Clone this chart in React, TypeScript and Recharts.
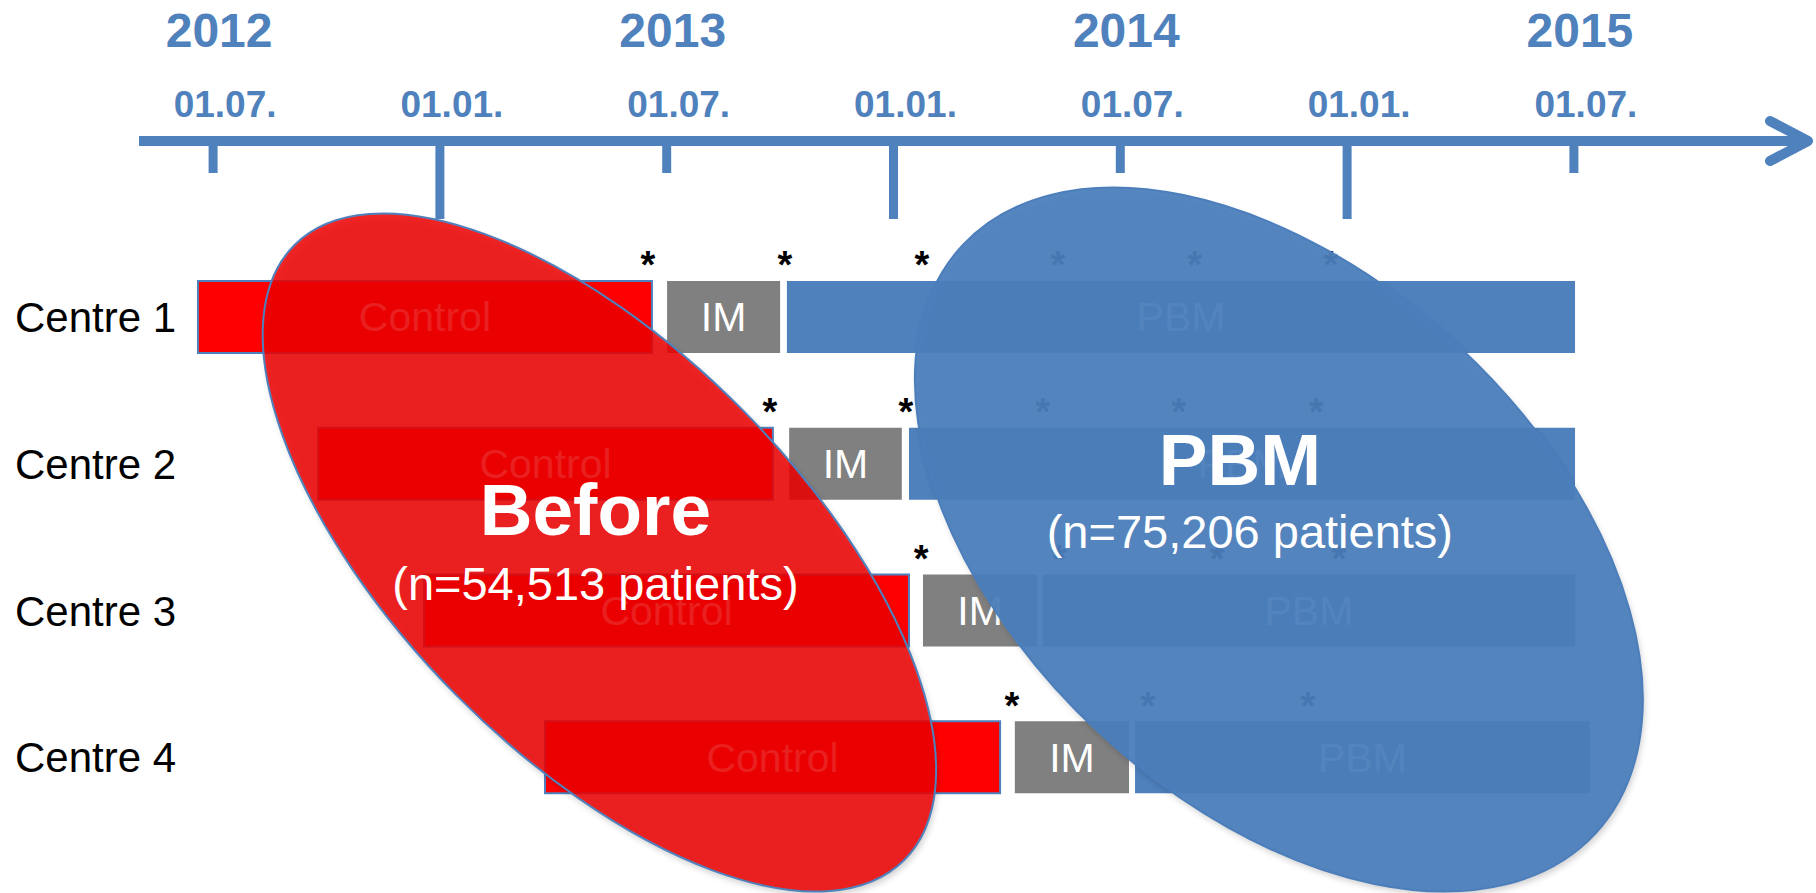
import { BarChart, Bar, XAxis, YAxis, ReferenceArea, ReferenceDot } from 'recharts';

/* ── Theme ── */
const FONT = '"Liberation Sans", Arial, Helvetica, sans-serif';
const C = { blue: '#4F81BD', red: '#FF0000', grey: '#808080', ink: '#000000', white: '#FFFFFF' };

/* ── Data (months from 01.07.2012) ── */
const centres = ['Centre 1', 'Centre 2', 'Centre 3', 'Centre 4'];
const controlFrom = [-0.4, 2.78, 5.58, 8.78];
const controlTo = [11.61, 14.81, 18.41, 20.82];
const imFrom = [12.01, 15.24, 18.78, 21.21];
const imTo = [15.0, 18.22, 21.8, 24.23];
const pbmFrom = [15.18, 18.41, 21.95, 24.39];
const pbmTo = [36.03, 36.03, 36.03, 36.42];
const asterisks = [
  [11.5, 15.13, 18.75, 22.35, 25.97, 29.57],
  [14.73, 18.33, 21.95, 25.55, 29.18],
  [18.73, 22.38, 26.56, 29.78],
  [21.13, 24.73, 28.96],
];

const tickMonths = [0, 6, 12, 18, 24, 30, 36];
const tickDates = ['01.07.', '01.01.', '01.07.', '01.01.', '01.07.', '01.01.', '01.07.'];
const yearMonths = [0, 12, 24, 36];
const years = ['2012', '2013', '2014', '2015'];

const ellipseTitles = ['Before', 'PBM'];
const ellipseNotes = ['(n=54,513 patients)', '(n=75,206 patients)'];
const ellipseFrom = [1.32, 18.57];
const ellipseTo = [19.12, 37.82];

const rows = centres.map((centre, i) => ({
  centre,
  lead: controlFrom[i],
  control: controlTo[i] - controlFrom[i],
  gap1: imFrom[i] - controlTo[i],
  im: imTo[i] - imFrom[i],
  gap2: pbmFrom[i] - imTo[i],
  pbm: pbmTo[i] - pbmFrom[i],
}));

/* ── Styles ── */
const PHASES = [
  { key: 'control', label: 'Control', fill: C.red, stroke: C.blue },
  { key: 'im', label: 'IM', fill: C.grey, stroke: 'none' },
  { key: 'pbm', label: 'PBM', fill: C.blue, stroke: 'none' },
];

const ELLIPSES = [
  { fill: '#EE0000', opacity: 0.85, stroke: C.blue, rx: 202, ry: 433, rot: -44.7, dy: 15, tdx: -4, tdy: -18, ndx: -4, ndy: 47 },
  { fill: '#4B7EBB', opacity: 0.94, stroke: '#4B7EBB', rx: 264, ry: 432, rot: -47.1, dy: 2, tdx: -39, tdy: -55, ndx: -29, ndy: 8 },
];

/* ── Custom pieces ── */
const TimeTick = ({ x, y, payload }: any) => {
  const i = tickMonths.indexOf(payload.value);
  const label = tickDates[i];
  const long = label === '01.01.';
  const yi = yearMonths.indexOf(payload.value);
  return (
    <g>
      <line x1={x} y1={y} x2={x} y2={y + (long ? 78 : 32)} stroke={C.blue} strokeWidth={9} />
      <text x={x + 12} y={y - 24} textAnchor="middle" fill={C.blue} fontFamily={FONT} fontWeight="bold" fontSize={37}>
        {label}
      </text>
      {yi >= 0 && (
        <text x={x + 6} y={y - 94} textAnchor="middle" fill={C.blue} fontFamily={FONT} fontWeight="bold" fontSize={48}>
          {years[yi]}
        </text>
      )}
    </g>
  );
};

const ArrowHead = ({ viewBox }: any) => {
  if (!viewBox) return null;
  const tx = viewBox.x + viewBox.width + 2;
  const ty = viewBox.y + viewBox.height;
  return (
    <path
      d={`M${tx - 38},${ty - 20} L${tx},${ty} L${tx - 38},${ty + 20}`}
      fill="none"
      stroke={C.blue}
      strokeWidth={10}
      strokeLinecap="round"
      strokeLinejoin="round"
    />
  );
};

const CentreTick = ({ x, y, payload }: any) => (
  <text x={x - 124} y={y} dy="0.35em" textAnchor="start" fill={C.ink} fontFamily={FONT} fontSize={42}>
    {payload.value}
  </text>
);

const phaseShape = (p: (typeof PHASES)[number]) => (props: any) => {
  const { x, y, width, height } = props;
  if (!width || width <= 0) return null;
  return (
    <g>
      <rect x={x} y={y} width={width} height={height} fill={p.fill} stroke={p.stroke} strokeWidth={2} />
      <text x={x + width / 2} y={y + height / 2} dy="0.35em" textAnchor="middle" fill={C.white} fontFamily={FONT} fontSize={41}>
        {p.label}
      </text>
    </g>
  );
};

const StarShape = ({ cx, cy }: any) => (
  <text x={cx} y={cy - 39} textAnchor="middle" fill={C.ink} fontFamily={FONT} fontWeight="bold" fontSize={38}>
    *
  </text>
);

const ellipseShape = (i: number) => (props: any) => {
  const { x, y, width, height } = props;
  const s = ELLIPSES[i];
  const cx = x + width / 2;
  const cy = y + height / 2 + s.dy;
  return (
    <g>
      <defs>
        <filter id={`blur${i}`} x="-20%" y="-20%" width="140%" height="140%">
          <feGaussianBlur stdDeviation={3} />
        </filter>
      </defs>
      <ellipse cx={cx + 2} cy={cy + 4} rx={s.rx} ry={s.ry} transform={`rotate(${s.rot} ${cx + 2} ${cy + 4})`} fill="#000" opacity={0.18} filter={`url(#blur${i})`} />
      <ellipse cx={cx} cy={cy} rx={s.rx} ry={s.ry} transform={`rotate(${s.rot} ${cx} ${cy})`} fill={s.fill} fillOpacity={s.opacity} stroke={s.stroke} strokeWidth={2} />
      <text x={cx + s.tdx} y={cy + s.tdy} textAnchor="middle" fill={C.white} fontFamily={FONT} fontWeight="bold" fontSize={73}>
        {ellipseTitles[i]}
      </text>
      <text x={cx + s.ndx} y={cy + s.ndy} textAnchor="middle" fill={C.white} fontFamily={FONT} fontSize={47}>
        {ellipseNotes[i]}
      </text>
    </g>
  );
};

export default function App() {
  return (
    <div style={{ position: 'absolute', left: 0, top: 0, width: 1816, height: 893, background: '#fff' }}>
      <BarChart
        width={1816}
        height={893}
        data={rows}
        layout="vertical"
        barSize={72}
        margin={{ top: 0, right: 10, bottom: 62, left: 19 }}
      >
        <XAxis
          type="number"
          orientation="top"
          domain={[-1.96, 42.14]}
          allowDataOverflow
          ticks={tickMonths}
          interval={0}
          tick={<TimeTick />}
          tickLine={false}
          tickSize={0}
          tickMargin={0}
          axisLine={{ stroke: C.blue, strokeWidth: 10 }}
          height={141}
          label={{ content: ArrowHead }}
        />
        <YAxis
          type="category"
          dataKey="centre"
          width={120}
          axisLine={false}
          tickLine={false}
          tickSize={0}
          tickMargin={0}
          interval={0}
          tick={<CentreTick />}
          padding={{ top: 103, bottom: 0 }}
        />
        <Bar dataKey="lead" stackId="s" fill="none" isAnimationActive={false} />
        <Bar dataKey="control" stackId="s" shape={phaseShape(PHASES[0])} isAnimationActive={false} />
        <Bar dataKey="gap1" stackId="s" fill="none" isAnimationActive={false} />
        <Bar dataKey="im" stackId="s" shape={phaseShape(PHASES[1])} isAnimationActive={false} />
        <Bar dataKey="gap2" stackId="s" fill="none" isAnimationActive={false} />
        <Bar dataKey="pbm" stackId="s" shape={phaseShape(PHASES[2])} isAnimationActive={false} />
        {centres.flatMap((centre, i) =>
          asterisks[i].map((m, j) => (
            <ReferenceDot key={`${i}-${j}`} x={m} y={centre} r={1} ifOverflow="visible" shape={StarShape} />
          ))
        )}
        {ellipseTitles.map((t, i) => (
          <ReferenceArea
            key={t}
            x1={ellipseFrom[i]}
            x2={ellipseTo[i]}
            y1={centres[0]}
            y2={centres[3]}
            ifOverflow="visible"
            zIndex={1500}
            shape={ellipseShape(i)}
          />
        ))}
      </BarChart>
    </div>
  );
}
